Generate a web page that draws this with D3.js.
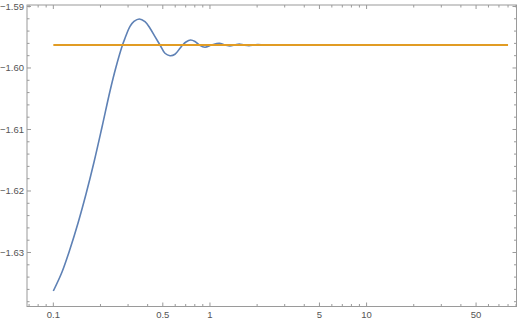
<!DOCTYPE html>
<html>
<head>
<meta charset="utf-8">
<style>
  body { margin: 0; background: #fff; }
  svg { display: block; font-family: "Liberation Sans", Arial, sans-serif; }
  .frame { fill: none; stroke: #9a9a9a; stroke-width: 1; }
  .tick { stroke: #9a9a9a; stroke-width: 1; }
  .lbl { fill: #555; font-size: 9.5px; }
</style>
</head>
<body>
<script src="https://cdn.jsdelivr.net/npm/d3@7"></script>
<script>

// blue curve
var curveX = [0.1, 0.1136, 0.1278, 0.1438, 0.1617, 0.1819, 0.2046, 0.2301, 0.2513, 0.2764,
              0.2868, 0.3087, 0.3273, 0.3538, 0.3847, 0.4142, 0.4457, 0.4797, 0.5162, 0.5555,
              0.5978, 0.6434, 0.6695, 0.7027, 0.7529, 0.8023, 0.8545, 0.9292, 1.025, 1.146,
              1.247, 1.342, 1.444, 1.538, 1.648, 1.774, 1.909, 2.024, 2.18, 2.31,
              2.49, 2.7, 3.0, 80];
var curveY = [-1.63626, -1.63317, -1.62943, -1.62520, -1.62049, -1.61528, -1.60959, -1.60374, -1.59984, -1.59626,
              -1.59517, -1.59325, -1.59244, -1.59203, -1.59247, -1.59354, -1.59491, -1.59626, -1.59761, -1.59800,
              -1.59777, -1.59680, -1.59626, -1.59577, -1.59545, -1.59569, -1.59626, -1.59663, -1.59626, -1.59598,
              -1.59626, -1.59642, -1.59626, -1.59610, -1.59626, -1.59636, -1.59626, -1.59618, -1.59626, -1.59631,
              -1.59626, -1.59622, -1.59626, -1.59626];

// orange constant line
var limitX = [0.1, 80];
var limitY = -1.59626;

// ticks
var xMajor = [0.1, 0.5, 1, 5, 10, 50];
var xMajorLabels = ["0.1", "0.5", "1", "5", "10", "50"];
var xMinor = [0.07, 0.08, 0.09, 0.2, 0.3, 0.4, 0.6, 0.7, 0.8, 0.9, 2, 3, 4, 6, 7, 8, 9, 20, 30, 40, 60, 70, 80, 90];
var yMajor = [-1.59, -1.60, -1.61, -1.62, -1.63];
var yMajorLabels = ["\u22121.59", "\u22121.60", "\u22121.61", "\u22121.62", "\u22121.63"];
var yMinor = [-1.592, -1.594, -1.596, -1.598, -1.602, -1.604, -1.606, -1.608,
              -1.612, -1.614, -1.616, -1.618, -1.622, -1.624, -1.626, -1.628,
              -1.632, -1.634, -1.636, -1.638];

var xDomain = [0.0679, 90.6];
var yDomain = [-1.63878, -1.58976];

var W = 518, H = 320;
var L = 27, R = 516.5, T = 5, B = 306.5;

var x = d3.scaleLog().domain(xDomain).range([L, R]);
var y = d3.scaleLinear().domain(yDomain).range([B, T]);

var svg = d3.select("body").append("svg")
    .attr("width", W)
    .attr("height", H);

// frame
svg.append("rect").attr("class", "frame")
    .attr("x", L).attr("y", T).attr("width", R - L).attr("height", B - T);

var maj = 4, mnr = 2.5;

// x ticks, bottom and top, pointing inwards
function xTicks(vals, len) {
  vals.filter(v => x(v) <= R).forEach(function(v) {
    svg.append("line").attr("class", "tick")
      .attr("x1", x(v)).attr("x2", x(v)).attr("y1", B).attr("y2", B - len);
    svg.append("line").attr("class", "tick")
      .attr("x1", x(v)).attr("x2", x(v)).attr("y1", T).attr("y2", T + len);
  });
}
xTicks(xMajor, maj);
xTicks(xMinor, mnr);

function yTicks(vals, len) {
  vals.filter(v => y(v) <= B).forEach(function(v) {
    svg.append("line").attr("class", "tick")
      .attr("x1", L).attr("x2", L + len).attr("y1", y(v)).attr("y2", y(v));
    svg.append("line").attr("class", "tick")
      .attr("x1", R).attr("x2", R - len).attr("y1", y(v)).attr("y2", y(v));
  });
}
yTicks(yMajor, maj);
yTicks(yMinor, mnr);

svg.selectAll(".xl").data(xMajor).enter().append("text")
    .attr("class", "lbl")
    .attr("x", d => x(d))
    .attr("y", B + 11.5)
    .attr("text-anchor", "middle")
    .text((d, i) => xMajorLabels[i]);

svg.selectAll(".yl").data(yMajor).enter().append("text")
    .attr("class", "lbl")
    .attr("x", L - 3)
    .attr("y", d => y(d) + 3.3)
    .attr("text-anchor", "end")
    .text((d, i) => yMajorLabels[i]);

var line = d3.line()
    .x(d => x(d[0]))
    .y(d => y(d[1]))
    .curve(d3.curveCatmullRom.alpha(0.5));

svg.append("path")
    .datum(curveX.map((v, i) => [v, curveY[i]]))
    .attr("d", line)
    .attr("fill", "none")
    .attr("stroke", "#5e81b5")
    .attr("stroke-width", 1.6);

svg.append("path")
    .datum(limitX.map(v => [v, limitY]))
    .attr("d", d3.line().x(d => x(d[0])).y(d => y(d[1])))
    .attr("fill", "none")
    .attr("stroke", "#e19c24")
    .attr("stroke-width", 1.8);

</script>
</body>
</html>
